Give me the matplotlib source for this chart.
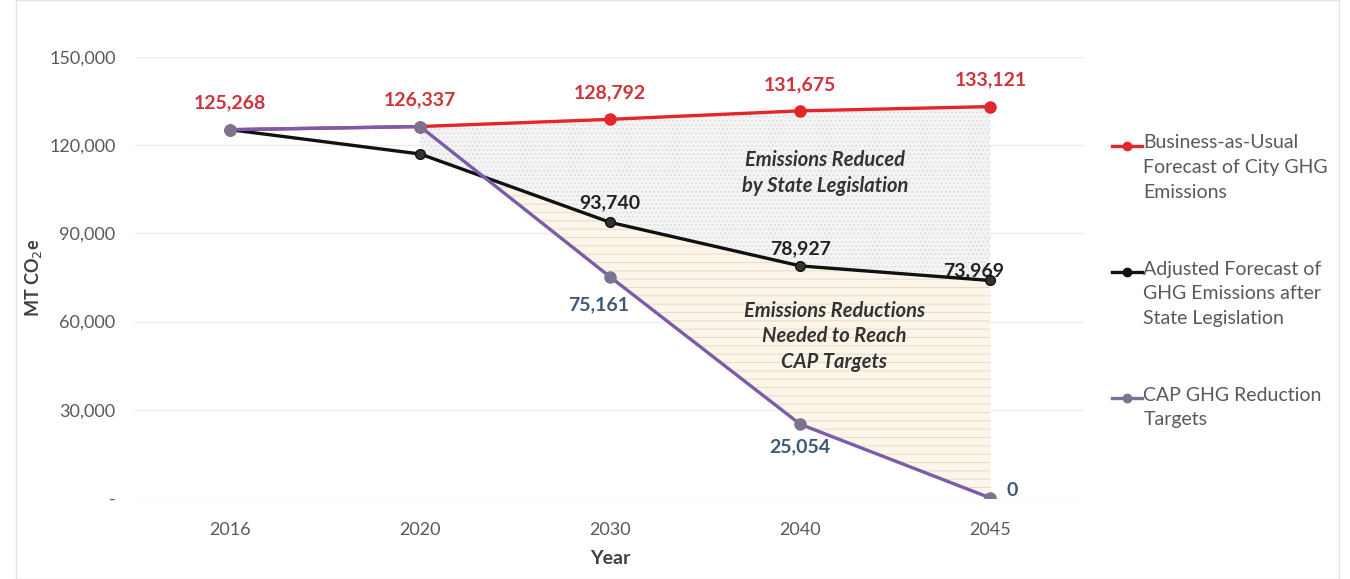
import matplotlib
matplotlib.use("Agg")
from matplotlib import pyplot as plt
from matplotlib.lines import Line2D
from matplotlib.patches import Rectangle
import numpy as np

plt.rcParams['font.family'] = ['Lato', 'DejaVu Sans']
plt.rcParams['hatch.linewidth'] = 0.7

years = ["2016", "2020", "2030", "2040", "2045"]
bau = [125268, 126337, 128792, 131675, 133121]
adjusted = [125268, 117000, 93740, 78927, 73969]
cap = [125268, 126337, 75161, 25054, 0]

bau_labels = ["125,268", "126,337", "128,792", "131,675", "133,121"]
adj_labels = [None, None, "93,740", "78,927", "73,969"]
cap_labels = [None, None, "75,161", "25,054", "0"]

legend_names = ["Business-as-Usual\nForecast of City GHG\nEmissions",
                "Adjusted Forecast of\nGHG Emissions after\nState Legislation",
                "CAP GHG Reduction\nTargets"]

red = "#e3262a"
black = "#111111"
purple = "#7a5ca8"
grey_text = "#595959"

fig = plt.figure(figsize=(13.5, 5.79), dpi=100)
ax = fig.add_axes([0.1, 0.14, 0.704, 0.7616])

x = np.arange(len(years))
xb = np.array(bau, dtype=float)
xa = np.array(adjusted, dtype=float)
xc = np.array(cap, dtype=float)

# shaded areas
ax.fill_between(x, xb, xa, where=x >= 1, facecolor="#f4f4f4", edgecolor="#dadada",
                hatch="....", linewidth=0, zorder=1)
xf = np.linspace(1, 4, 300)
af = np.interp(xf, x, xa)
cf = np.interp(xf, x, xc)
ax.fill_between(xf, af, cf, where=cf < af, facecolor="#fbf5ea", edgecolor="#e8dbc4",
                hatch="--", linewidth=0, zorder=2)

ax.plot(x, bau, color=red, lw=2.4, marker="o", ms=8, zorder=4)
ax.plot(x, adjusted, color=black, lw=2.4, marker="o", ms=7, mfc="#333333", zorder=5)
ax.plot(x, cap, color=purple, lw=2.4, marker="o", ms=8, mfc="#7c7390", mec="#7c7390", zorder=6)

for i, t in enumerate(bau_labels):
    ax.annotate(t, (x[i], bau[i]), xytext=(0, 13), textcoords="offset points",
                ha="center", va="bottom", color="#d0323a", fontsize=14, fontweight="bold")
adj_off = {2: (0, 8), 3: (0, 6), 4: (-12, 1)}
for i, t in enumerate(adj_labels):
    if t:
        dx, dy = adj_off[i]
        ax.annotate(t, (x[i], adjusted[i]), xytext=(dx, dy), textcoords="offset points",
                    ha="center", va="bottom", color="#222222", fontsize=14, fontweight="bold")
cap_off = {2: (-8, -14), 3: (0, -10), 4: (16, 5)}
for i, t in enumerate(cap_labels):
    if t:
        dx, dy = cap_off[i]
        ax.annotate(t, (x[i], cap[i]), xytext=(dx, dy), textcoords="offset points",
                    ha="center", va="top" if i < 4 else "center", color="#3e5878",
                    fontsize=14, fontweight="bold")

ax.text(3.13, 110500, "Emissions Reduced\nby State Legislation", ha="center", va="center",
        fontsize=14.5, fontweight="bold", style="italic", color="#333333", linespacing=1.35, zorder=7)
ax.text(3.18, 55000, "Emissions Reductions\nNeeded to Reach\nCAP Targets", ha="center", va="center",
        fontsize=14.5, fontweight="bold", style="italic", color="#333333", linespacing=1.35, zorder=7)

ax.set_xlim(-0.5, 4.5)
ax.set_ylim(0, 150000)
ax.set_xticks(x)
ax.set_xticklabels(years)
yt = [0, 30000, 60000, 90000, 120000, 150000]
ax.set_yticks(yt)
ax.set_yticklabels(["-"] + [f"{v:,}" for v in yt[1:]])
ax.tick_params(length=0, labelsize=13, colors=grey_text, pad=14)
ax.tick_params(axis="x", pad=17)
ax.grid(axis="y", color="#ececec", lw=1)
ax.set_axisbelow(True)
for s in ax.spines.values():
    s.set_visible(False)
ax.set_xlabel("Year", fontsize=14, fontweight="bold", color="#404040", labelpad=9)
ax.set_ylabel("MT CO$_2$e", fontsize=13, fontweight="bold", color="#404040", labelpad=4)

# legend drawn by hand so the handle sits on the first text line
colors = [red, black, "#7c7390"]
ys = [0.748, 0.530, 0.312]
for c, y, name in zip(colors, ys, legend_names):
    fig.add_artist(Line2D([0.824, 0.846], [y, y], transform=fig.transFigure, color=c, lw=2.4))
    fig.add_artist(Line2D([0.835], [y], transform=fig.transFigure, color=c, marker="o", ms=6))
    fig.text(0.847, y + 0.02, name, ha="left", va="top", fontsize=14, color=grey_text,
             linespacing=1.55)

fig.add_artist(Rectangle((0.012, 0.0), 0.98, 1.0, transform=fig.transFigure,
                         fill=False, edgecolor="#e4e4e4", lw=1))

fig.savefig("out.png", dpi=100, facecolor="white")
